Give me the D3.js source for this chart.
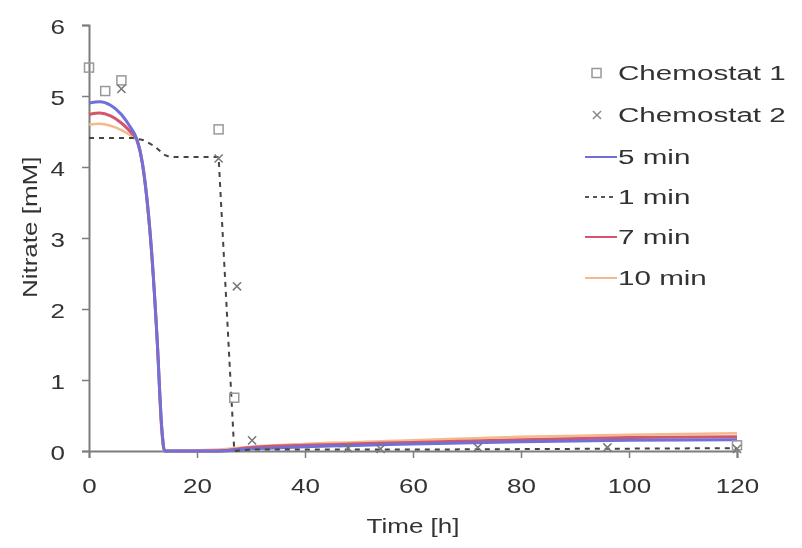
<!DOCTYPE html>
<html>
  <head>
    <meta charset="utf-8">
    <style>
      body { margin: 0; background: #fff; }
      text { font-family: "Liberation Sans", Arial, sans-serif; fill: #333; }
    </style>
    <title>Nitrate</title>
  </head>
  <body>
  <div id="viz-wrapper"></div>
  <script src="https://cdnjs.cloudflare.com/ajax/libs/d3/7.8.5/d3.min.js"></script>
  <script>

  // measured points, [time h, nitrate mM]
  var chemo1 = [[0, 5.4], [3, 5.07], [6, 5.22], [24, 4.53], [26.9, 0.75], [120, 0.08]];
  var chemo2 = [[6, 5.1], [24, 4.12], [27.4, 2.32], [30.2, 0.15], [48, 0.04], [54, 0.03], [72, 0.05], [96, 0.05], [120, 0.03]];

  // model curves
  var min5 = [[0, 4.9], [2, 4.92], [4, 4.87], [6, 4.74], [7.5, 4.58], [8.8, 4.4], [9.9, 4.05], [10.8, 3.5],
              [11.6, 2.8], [12.6, 1.6], [13.5, 0.3], [14, 0], [24, 0], [30, 0.03], [40, 0.06], [60, 0.1],
              [80, 0.13], [100, 0.15], [120, 0.16]];
  var min1 = [[0, 4.41], [8, 4.41], [10, 4.38], [12, 4.3], [14, 4.17], [15, 4.14], [24, 4.14], [26.9, 0],
              [30, 0.02], [60, 0.02], [90, 0.03], [120, 0.04]];
  var min7 = [[0, 4.74], [2, 4.76], [4, 4.72], [6, 4.62], [8, 4.47], [8.8, 4.4], [9.9, 4.05], [10.8, 3.5],
              [11.6, 2.8], [12.6, 1.6], [13.5, 0.3], [14, 0], [24, 0], [30, 0.05], [40, 0.08], [60, 0.12],
              [80, 0.16], [100, 0.19], [120, 0.2]];
  var min10 = [[0, 4.6], [2, 4.61], [4, 4.58], [6, 4.52], [8, 4.43], [8.8, 4.38], [9.9, 4.02], [10.8, 3.45],
               [11.6, 2.75], [12.6, 1.55], [13.4, 0.3], [13.9, 0], [24, 0.02], [30, 0.06], [40, 0.1], [60, 0.15],
               [80, 0.2], [100, 0.23], [120, 0.25]];

  var xTicks = [0, 20, 40, 60, 80, 100, 120];
  var yTicks = [0, 1, 2, 3, 4, 5, 6];
  var legendNames = ["Chemostat 1", "Chemostat 2", "5 min", "1 min", "7 min", "10 min"];

  var width = 802, height = 548;
  var plotLeft = 89, plotRight = 737, plotTop = 25, plotBottom = 451;
  var stretch = 1.3;        // the lettering in the figure is wide
  var legendStretch = 1.48; // legend text even wider

  var svg = d3.select("#viz-wrapper").append("svg")
              .attr("width", width)
              .attr("height", height);

  svg.append("defs").append("filter").attr("id", "soft")
     .append("feGaussianBlur").attr("stdDeviation", 0.6);

  var g = svg.append("g").attr("filter", "url(#soft)");

  var x = d3.scaleLinear().domain([0, 120]).range([plotLeft, plotRight]);
  var y = d3.scaleLinear().domain([0, 6]).range([plotBottom, plotTop]);

  function widen(sel) {
    sel.each(function() {
      var t = d3.select(this);
      var tx = +t.attr("x") || 0;
      t.attr("x", tx / stretch).attr("transform", "scale(" + stretch + ",1)");
    });
  }

  // axes
  var xAxis = g.append("g").attr("transform", "translate(0," + plotBottom + ")")
               .call(d3.axisBottom(x).tickValues(xTicks).tickSize(7).tickPadding(21));
  var yAxis = g.append("g").attr("transform", "translate(" + plotLeft + ",0)")
               .call(d3.axisLeft(y).tickValues(yTicks).tickFormat(d3.format("d")).tickSize(7).tickPadding(17));
  [xAxis, yAxis].forEach(function(a) {
    a.select(".domain").attr("stroke", "#7d7d7d").attr("stroke-width", 2);
    a.selectAll(".tick line").attr("stroke", "#7d7d7d").attr("stroke-width", 1.5);
    a.selectAll("text").style("font-size", "20px").attr("fill", "#333");
    widen(a.selectAll("text"));
  });
  yAxis.selectAll("text").attr("dy", "0.42em");

  g.append("text").attr("transform", "translate(" + x(60) + ",533) scale(" + stretch + ",1)")
   .attr("text-anchor", "middle").style("font-size", "20px").text("Time [h]");
  g.append("text").attr("transform", "translate(37," + y(3.15) + ") rotate(-90) scale(" + stretch + ",1)")
   .attr("text-anchor", "middle").style("font-size", "20px").text("Nitrate [mM]");

  var line = d3.line().curve(d3.curveMonotoneX)
               .x(function(d) { return x(d[0]); }).y(function(d) { return y(d[1]); });
  var straight = d3.line().x(function(d) { return x(d[0]); }).y(function(d) { return y(d[1]); });

  // model lines
  g.append("path").datum(min10).attr("d", line).attr("fill", "none")
   .attr("stroke", "#f5b98e").attr("stroke-width", 2.5);
  g.append("path").datum(min7).attr("d", line).attr("fill", "none")
   .attr("stroke", "#d2566c").attr("stroke-width", 3);
  g.append("path").datum(min5).attr("d", line).attr("fill", "none")
   .attr("stroke", "#6f6fd8").attr("stroke-width", 3);
  g.append("path").datum(min1).attr("d", straight).attr("fill", "none")
   .attr("stroke", "#444").attr("stroke-width", 2).attr("stroke-dasharray", "5,5");

  // chemostat 1: open squares
  g.selectAll(".c1").data(chemo1).enter().append("rect")
   .attr("class", "c1")
   .attr("x", function(d) { return x(d[0]) - 4.5; })
   .attr("y", function(d) { return y(d[1]) - 4.5; })
   .attr("width", 9).attr("height", 9)
   .attr("fill", "none").attr("stroke", "#999").attr("stroke-width", 1.5);

  // chemostat 2: crosses
  var cross = d3.symbol().type(d3.symbolX).size(45);
  g.selectAll(".c2").data(chemo2).enter().append("path")
   .attr("class", "c2")
   .attr("d", cross)
   .attr("transform", function(d) { return "translate(" + x(d[0]) + "," + y(d[1]) + ")"; })
   .attr("fill", "none").attr("stroke", "#777").attr("stroke-width", 1.5);

  // legend
  var legendY = [73, 115, 157, 197, 237, 278];
  var legend = g.append("g");
  legend.selectAll("text").data(legendNames).enter().append("text")
        .attr("transform", function(d, i) { return "translate(618," + legendY[i] + ") scale(" + legendStretch + ",1)"; })
        .attr("dy", "0.36em")
        .style("font-size", "20px")
        .text(function(d) { return d; });

  legend.append("rect").attr("x", 592).attr("y", legendY[0] - 4.5).attr("width", 9).attr("height", 9)
        .attr("fill", "none").attr("stroke", "#999").attr("stroke-width", 1.5);
  legend.append("path").attr("d", cross)
        .attr("transform", "translate(597," + legendY[1] + ")")
        .attr("fill", "none").attr("stroke", "#888").attr("stroke-width", 1.5);

  var legendLines = [
    { i: 2, color: "#6f6fd8", dash: null },
    { i: 3, color: "#555", dash: "4,4" },
    { i: 4, color: "#d2566c", dash: null },
    { i: 5, color: "#f5b98e", dash: null }
  ];
  legendLines.forEach(function(l) {
    legend.append("line")
          .attr("x1", 585).attr("x2", 617)
          .attr("y1", legendY[l.i]).attr("y2", legendY[l.i])
          .attr("stroke", l.color).attr("stroke-width", 2)
          .attr("stroke-dasharray", l.dash);
  });

  </script>
  </body>
</html>
